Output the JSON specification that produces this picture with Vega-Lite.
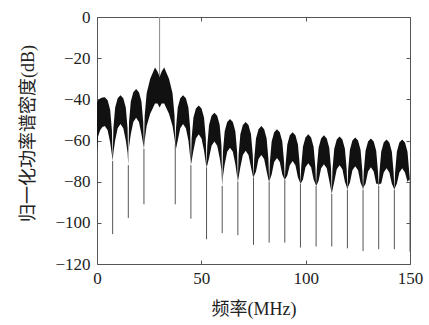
{
"$schema": "https://vega.github.io/schema/vega-lite/v6.json",
"width": 313, "height": 247,
"autosize": {"type": "none"},
"padding": {"left": 97, "top": 17, "right": 19, "bottom": 61},
"background": "white",
"config": {
 "view": {"stroke": "#555", "strokeWidth": 1},
 "axis": {"domain": false, "grid": false, "tickColor": "#555", "tickSize": -4, "tickWidth": 1, "labelFlush": false, "labelOverlap": false,
  "labelFont": "Liberation Serif", "labelFontSize": 17, "labelColor": "#222",
  "titleFont": "Liberation Serif, Noto Sans CJK SC", "titleFontSize": 18, "titleFontWeight": "normal", "titleColor": "#222"}
},
"datasets": {
 "band": [
  {"f":0,"hi":-41.5,"lo":-66},{"f":0.5,"hi":-40.5,"lo":-58},{"f":1.5,"hi":-39.6,"lo":-55},{"f":2.6,"hi":-39.1,"lo":-53.5},{"f":3.75,"hi":-39,"lo":-53},{"f":5.1,"hi":-40.5,"lo":-55},{"f":6.3,"hi":-45,"lo":-61},{"f":7.15,"hi":-55,"lo":-67},{"f":7.5,"hi":-70,"lo":-70},
  {"f":7.85,"hi":-54,"lo":-66},{"f":8.7,"hi":-44,"lo":-60},{"f":9.9,"hi":-39.5,"lo":-54},{"f":11.25,"hi":-38,"lo":-52},{"f":12.6,"hi":-39.5,"lo":-54},{"f":13.8,"hi":-44,"lo":-60},{"f":14.65,"hi":-54,"lo":-66},{"f":15,"hi":-72,"lo":-72},
  {"f":15.35,"hi":-51,"lo":-63},{"f":16.2,"hi":-41,"lo":-57},{"f":17.4,"hi":-36.5,"lo":-51},{"f":18.75,"hi":-35,"lo":-49},{"f":20.1,"hi":-36.5,"lo":-51},{"f":21.3,"hi":-41,"lo":-57},{"f":22.15,"hi":-51,"lo":-62},{"f":22.5,"hi":-64,"lo":-64},
  {"f":22.85,"hi":-48,"lo":-60},{"f":23.8,"hi":-37,"lo":-53},{"f":25.5,"hi":-30,"lo":-47},{"f":27.8,"hi":-24.5,"lo":-42},{"f":29,"hi":-26.5,"lo":-42},{"f":30,"hi":-29,"lo":-44},{"f":31,"hi":-26.5,"lo":-42},{"f":32.2,"hi":-24.5,"lo":-42},{"f":34.5,"hi":-30,"lo":-47},{"f":36.2,"hi":-37,"lo":-53},{"f":37.15,"hi":-48,"lo":-59},{"f":37.5,"hi":-62,"lo":-62},
  {"f":37.85,"hi":-54,"lo":-64},{"f":38.7,"hi":-44,"lo":-60},{"f":39.9,"hi":-39.5,"lo":-54},{"f":41.25,"hi":-38,"lo":-52},{"f":42.6,"hi":-39.5,"lo":-54},{"f":43.8,"hi":-44,"lo":-60},{"f":44.65,"hi":-54,"lo":-68},{"f":45,"hi":-72,"lo":-72},
  {"f":45.35,"hi":-59,"lo":-70},{"f":46.2,"hi":-49,"lo":-65},{"f":47.4,"hi":-44.5,"lo":-59},{"f":48.75,"hi":-43,"lo":-57},{"f":50.1,"hi":-44.5,"lo":-59},{"f":51.3,"hi":-49,"lo":-65},{"f":52.15,"hi":-59,"lo":-71},{"f":52.5,"hi":-73,"lo":-73},
  {"f":52.85,"hi":-62.5,"lo":-72},{"f":53.7,"hi":-52.5,"lo":-68.5},{"f":54.9,"hi":-48,"lo":-62.5},{"f":56.25,"hi":-46.5,"lo":-60.5},{"f":57.6,"hi":-48,"lo":-62.5},{"f":58.8,"hi":-52.5,"lo":-68.5},{"f":59.65,"hi":-62.5,"lo":-74.5},{"f":60,"hi":-82,"lo":-82},
  {"f":60.35,"hi":-65.5,"lo":-77.5},{"f":61.2,"hi":-55.5,"lo":-71.5},{"f":62.4,"hi":-51,"lo":-65.5},{"f":63.75,"hi":-49.5,"lo":-63.5},{"f":65.1,"hi":-51,"lo":-65.5},{"f":66.3,"hi":-55.5,"lo":-71.5},{"f":67.15,"hi":-65.5,"lo":-77.5},{"f":67.5,"hi":-80,"lo":-80},
  {"f":67.85,"hi":-67,"lo":-78},{"f":68.7,"hi":-57,"lo":-73},{"f":69.9,"hi":-52.5,"lo":-67},{"f":71.25,"hi":-51,"lo":-65},{"f":72.6,"hi":-52.5,"lo":-67},{"f":73.8,"hi":-57,"lo":-73},{"f":74.65,"hi":-67,"lo":-77},{"f":75,"hi":-78,"lo":-78},
  {"f":75.35,"hi":-69,"lo":-77},{"f":76.2,"hi":-59,"lo":-75},{"f":77.4,"hi":-54.5,"lo":-69},{"f":78.75,"hi":-53,"lo":-67},{"f":80.1,"hi":-54.5,"lo":-69},{"f":81.3,"hi":-59,"lo":-75},{"f":82.15,"hi":-69,"lo":-79},{"f":82.5,"hi":-80,"lo":-80},
  {"f":82.85,"hi":-70.5,"lo":-79},{"f":83.7,"hi":-60.5,"lo":-76.5},{"f":84.9,"hi":-56,"lo":-70.5},{"f":86.25,"hi":-54.5,"lo":-68.5},{"f":87.6,"hi":-56,"lo":-70.5},{"f":88.8,"hi":-60.5,"lo":-76.5},{"f":89.65,"hi":-70.5,"lo":-78.5},{"f":90,"hi":-79,"lo":-79},
  {"f":90.35,"hi":-72,"lo":-78.5},{"f":91.2,"hi":-62,"lo":-77},{"f":92.4,"hi":-57.5,"lo":-72},{"f":93.75,"hi":-56,"lo":-70},{"f":95.1,"hi":-57.5,"lo":-72},{"f":96.3,"hi":-62,"lo":-78},{"f":97.15,"hi":-72,"lo":-80},{"f":97.5,"hi":-81,"lo":-81},
  {"f":97.85,"hi":-73,"lo":-80.5},{"f":98.7,"hi":-63,"lo":-79},{"f":99.9,"hi":-58.5,"lo":-73},{"f":101.25,"hi":-57,"lo":-71},{"f":102.6,"hi":-58.5,"lo":-73},{"f":103.8,"hi":-63,"lo":-79},{"f":104.65,"hi":-73,"lo":-81},{"f":105,"hi":-82,"lo":-82},
  {"f":105.35,"hi":-73.5,"lo":-81.5},{"f":106.2,"hi":-63.5,"lo":-79.5},{"f":107.4,"hi":-59,"lo":-73.5},{"f":108.75,"hi":-57.5,"lo":-71.5},{"f":110.1,"hi":-59,"lo":-73.5},{"f":111.3,"hi":-63.5,"lo":-79.5},{"f":112.15,"hi":-73.5,"lo":-84},{"f":112.5,"hi":-86,"lo":-86},
  {"f":112.85,"hi":-74,"lo":-84},{"f":113.7,"hi":-64,"lo":-80},{"f":114.9,"hi":-59.5,"lo":-74},{"f":116.25,"hi":-58,"lo":-72},{"f":117.6,"hi":-59.5,"lo":-74},{"f":118.8,"hi":-64,"lo":-80},{"f":119.65,"hi":-74,"lo":-82.5},{"f":120,"hi":-84,"lo":-84},
  {"f":120.35,"hi":-74.5,"lo":-82.5},{"f":121.2,"hi":-64.5,"lo":-80.5},{"f":122.4,"hi":-60,"lo":-74.5},{"f":123.75,"hi":-58.5,"lo":-72.5},{"f":125.1,"hi":-60,"lo":-74.5},{"f":126.3,"hi":-64.5,"lo":-80.5},{"f":127.15,"hi":-74.5,"lo":-82.5},{"f":127.5,"hi":-84,"lo":-84},
  {"f":127.85,"hi":-75,"lo":-82.5},{"f":128.7,"hi":-65,"lo":-81},{"f":129.9,"hi":-60.5,"lo":-75},{"f":131.25,"hi":-59,"lo":-73},{"f":132.6,"hi":-60.5,"lo":-75},{"f":133.8,"hi":-65,"lo":-81},{"f":134.65,"hi":-75,"lo":-81},{"f":135,"hi":-82,"lo":-82},
  {"f":135.35,"hi":-75.5,"lo":-81},{"f":136.2,"hi":-65.5,"lo":-81},{"f":137.4,"hi":-61,"lo":-75.5},{"f":138.75,"hi":-59.5,"lo":-73.5},{"f":140.1,"hi":-61,"lo":-75.5},{"f":141.3,"hi":-65.5,"lo":-81},{"f":142.15,"hi":-75.5,"lo":-83},{"f":142.5,"hi":-84,"lo":-84},
  {"f":142.85,"hi":-75.5,"lo":-83},{"f":143.7,"hi":-65.5,"lo":-81},{"f":144.9,"hi":-61,"lo":-75.5},{"f":146.25,"hi":-59.5,"lo":-73.5},{"f":147.6,"hi":-61,"lo":-75.5},{"f":148.8,"hi":-65.5,"lo":-80},{"f":149.65,"hi":-75.5,"lo":-79},{"f":150,"hi":-80,"lo":-80}
 ],
 "nulls": [
  {"f":7.5,"conv":-70,"depth":-105.5},{"f":15,"conv":-72,"depth":-97.7},{"f":22.5,"conv":-64,"depth":-91},{"f":37.5,"conv":-62,"depth":-91},
  {"f":45,"conv":-72,"depth":-98},{"f":52.5,"conv":-73,"depth":-108},{"f":60,"conv":-82,"depth":-105},{"f":67.5,"conv":-80,"depth":-106},
  {"f":75,"conv":-78,"depth":-110.7},{"f":82.5,"conv":-80,"depth":-109.6},{"f":90,"conv":-79,"depth":-109.6},{"f":97.5,"conv":-81,"depth":-112},
  {"f":105,"conv":-82,"depth":-111.5},{"f":112.5,"conv":-86,"depth":-111.5},{"f":120,"conv":-84,"depth":-112.4},{"f":127.5,"conv":-84,"depth":-113.7},
  {"f":135,"conv":-82,"depth":-112.8},{"f":142.5,"conv":-84,"depth":-112.8},{"f":150,"conv":-80,"depth":-114}
 ],
 "spike": [{"f":30,"top":0,"base":-29}]
},
"layer": [
 {
  "data": {"name": "band"},
  "mark": {"type": "area", "color": "#111", "interpolate": "linear"},
  "encoding": {
   "x": {"field": "f", "type": "quantitative", "scale": {"domain": [0, 150], "nice": false, "zero": false},
    "axis": {"orient": "bottom", "values": [0, 50, 100, 150], "labelPadding": 10, "title": "频率(MHz)", "titleY": 36, "titleBaseline": "top"}},
   "y": {"field": "hi", "type": "quantitative", "scale": {"domain": [-120, 0], "nice": false},
    "axis": {"orient": "left", "values": [-120, -100, -80, -60, -40, -20, 0], "labelPadding": 11, "title": "归一化功率谱密度(dB)", "titleX": -60, "titleY": 116}},
   "y2": {"field": "lo"}
  }
 },
 {
  "data": {"name": "nulls"},
  "mark": {"type": "rule", "color": "#555", "strokeWidth": 1},
  "encoding": {
   "x": {"field": "f", "type": "quantitative", "axis": null},
   "y": {"field": "conv", "type": "quantitative", "axis": null},
   "y2": {"field": "depth"}
  }
 },
 {
  "data": {"name": "spike"},
  "mark": {"type": "rule", "color": "#888", "strokeWidth": 1},
  "encoding": {
   "x": {"field": "f", "type": "quantitative", "axis": {"orient": "top", "values": [0, 50, 100, 150], "labels": false, "title": null}},
   "y": {"field": "base", "type": "quantitative", "axis": {"orient": "right", "values": [-120, -100, -80, -60, -40, -20, 0], "labels": false, "title": null}},
   "y2": {"field": "top"}
  }
 }
],
"resolve": {"axis": {"x": "independent", "y": "independent"}}
}
